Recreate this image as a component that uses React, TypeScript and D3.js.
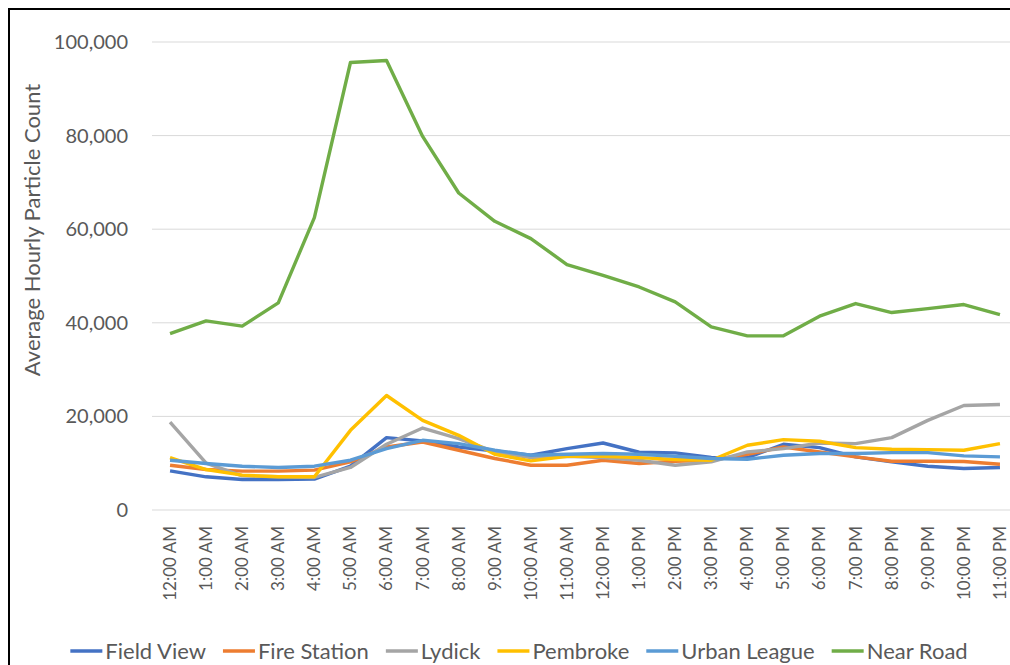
import React, { useEffect, useRef } from "react";
import * as d3 from "d3";

const hours = [
  "12:00 AM", "1:00 AM", "2:00 AM", "3:00 AM", "4:00 AM", "5:00 AM",
  "6:00 AM", "7:00 AM", "8:00 AM", "9:00 AM", "10:00 AM", "11:00 AM",
  "12:00 PM", "1:00 PM", "2:00 PM", "3:00 PM", "4:00 PM", "5:00 PM",
  "6:00 PM", "7:00 PM", "8:00 PM", "9:00 PM", "10:00 PM", "11:00 PM",
];

const fieldView = [
  8370, 7090, 6530, 6530, 6600, 9360, 15460, 14750, 13470, 12620, 11700, 13120,
  14320, 12340, 12200, 11210, 11200, 14040, 13330, 11350, 10290, 9360, 8870, 9080,
];
const fireStation = [
  9570, 8650, 8300, 8300, 8510, 10280, 13470, 14530, 12770, 11000, 9570, 9570,
  10640, 9930, 10430, 10640, 11910, 13470, 12400, 11350, 10430, 10430, 10350, 9790,
];
const lydick = [
  18790, 10000, 7300, 7090, 6960, 9090, 14040, 17510, 15250, 12400, 11200, 11490,
  11200, 10640, 9570, 10280, 12400, 13120, 14320, 14180, 15460, 19150, 22340, 22550,
];
const pembroke = [
  11200, 8650, 7450, 7090, 7090, 17020, 24470, 19150, 15960, 11910, 10500, 11490,
  11490, 11200, 10780, 10640, 13830, 15040, 14680, 13330, 12980, 12910, 12770, 14180,
];
const urbanLeague = [
  10640, 9930, 9360, 9080, 9360, 10640, 13120, 14890, 14180, 12770, 11700, 11910,
  12060, 11910, 11490, 11000, 10850, 11700, 12060, 12060, 12270, 12270, 11560, 11350,
];
const nearRoad = [
  37700, 40400, 39300, 44250, 62480, 95620, 96050, 79830, 67730, 61690, 57990, 52450,
  50150, 47660, 44460, 39130, 37210, 37210, 41410, 44110, 42190, 43040, 43900, 41760,
];

const seriesNames = ["Field View", "Fire Station", "Lydick", "Pembroke", "Urban League", "Near Road"];
const seriesValues = [fieldView, fireStation, lydick, pembroke, urbanLeague, nearRoad];
const seriesColors = ["#4472C4", "#ED7D31", "#A5A5A5", "#FFC000", "#5B9BD5", "#70AD47"];
const yTicks = [0, 20000, 40000, 60000, 80000, 100000];

const FONT = "Lato, 'Open Sans', sans-serif";

const App = () => {
  const svgRef = useRef<SVGSVGElement>(null);

  useEffect(() => {
    const svg = d3.select(svgRef.current);
    svg.selectAll("*").remove();
    draw(svg);
  }, []);

  const draw = (svg: any) => {
    const width = 1010;
    const plotLeft = 152, plotRight = 1018, plotTop = 42, plotBottom = 510;

    // chart area border (right/bottom edges run off the picture)
    svg.append("rect")
      .attr("x", 9).attr("y", 9)
      .attr("width", 1040).attr("height", 700)
      .attr("fill", "white")
      .attr("stroke", "black")
      .attr("stroke-width", 2);

    const x = d3.scaleBand().domain(hours).range([plotLeft, plotRight]);
    const y = d3.scaleLinear().domain([0, 100000]).range([plotBottom, plotTop]);
    const cx = (h: string) => (x(h) as number) + x.bandwidth() / 2;

    // gridlines
    svg.append("g")
      .selectAll("line")
      .data(yTicks)
      .enter()
      .append("line")
      .attr("x1", plotLeft).attr("x2", width)
      .attr("y1", (d: number) => y(d)).attr("y2", (d: number) => y(d))
      .attr("stroke", "#d9d9d9")
      .attr("stroke-width", 1);

    // y tick labels
    svg.append("g")
      .selectAll("text")
      .data(yTicks)
      .enter()
      .append("text")
      .attr("x", 128)
      .attr("y", (d: number) => y(d))
      .attr("dy", "0.35em")
      .attr("text-anchor", "end")
      .attr("font-family", FONT)
      .attr("font-size", "20px")
      .attr("fill", "#595959")
      .text((d: number) => d3.format(",")(d));

    // x tick labels, rotated
    svg.append("g")
      .selectAll("text")
      .data(hours)
      .enter()
      .append("text")
      .attr("transform", (d: string) => `translate(${cx(d)},526) rotate(-90)`)
      .attr("dy", "0.35em")
      .attr("text-anchor", "end")
      .attr("font-family", FONT)
      .attr("font-size", "17px")
      .attr("fill", "#595959")
      .text((d: string) => d);

    // y axis title
    svg.append("text")
      .attr("transform", "translate(32,230) rotate(-90)")
      .attr("dy", "0.35em")
      .attr("text-anchor", "middle")
      .attr("font-family", FONT)
      .attr("font-size", "22px")
      .attr("fill", "#595959")
      .text("Average Hourly Particle Count");

    // lines
    const line = d3.line<number>()
      .x((d, i) => cx(hours[i]))
      .y((d) => y(d));

    seriesValues.forEach((vals, i) => {
      svg.append("path")
        .datum(vals)
        .attr("d", line)
        .attr("fill", "none")
        .attr("stroke", seriesColors[i])
        .attr("stroke-width", 3.4)
        .attr("stroke-linejoin", "round");
    });

    // legend
    const legend = svg.append("g");
    const swatch = 32, gapText = 3, gapItem = 17;
    let pos = 0;
    seriesNames.forEach((name, i) => {
      const g = legend.append("g").attr("transform", `translate(${pos},0)`);
      g.append("line")
        .attr("x1", 0).attr("x2", swatch)
        .attr("y1", 0).attr("y2", 0)
        .attr("stroke", seriesColors[i])
        .attr("stroke-width", 3.4);
      const t = g.append("text")
        .attr("x", swatch + gapText)
        .attr("dy", "0.35em")
        .attr("font-family", FONT)
        .attr("font-size", "22px")
        .attr("fill", "#595959")
        .text(name);
      const w = (t.node() as SVGTextElement).getComputedTextLength();
      pos += swatch + gapText + w + gapItem;
    });
    const total = pos - gapItem;
    legend.attr("transform", `translate(${519 - total / 2},651)`);
  };

  return (
    <div style={{ position: "absolute", left: 0, top: 0 }}>
      <svg ref={svgRef} width={1010} height={665} style={{ display: "block" }}></svg>
    </div>
  );
};

export default App;
